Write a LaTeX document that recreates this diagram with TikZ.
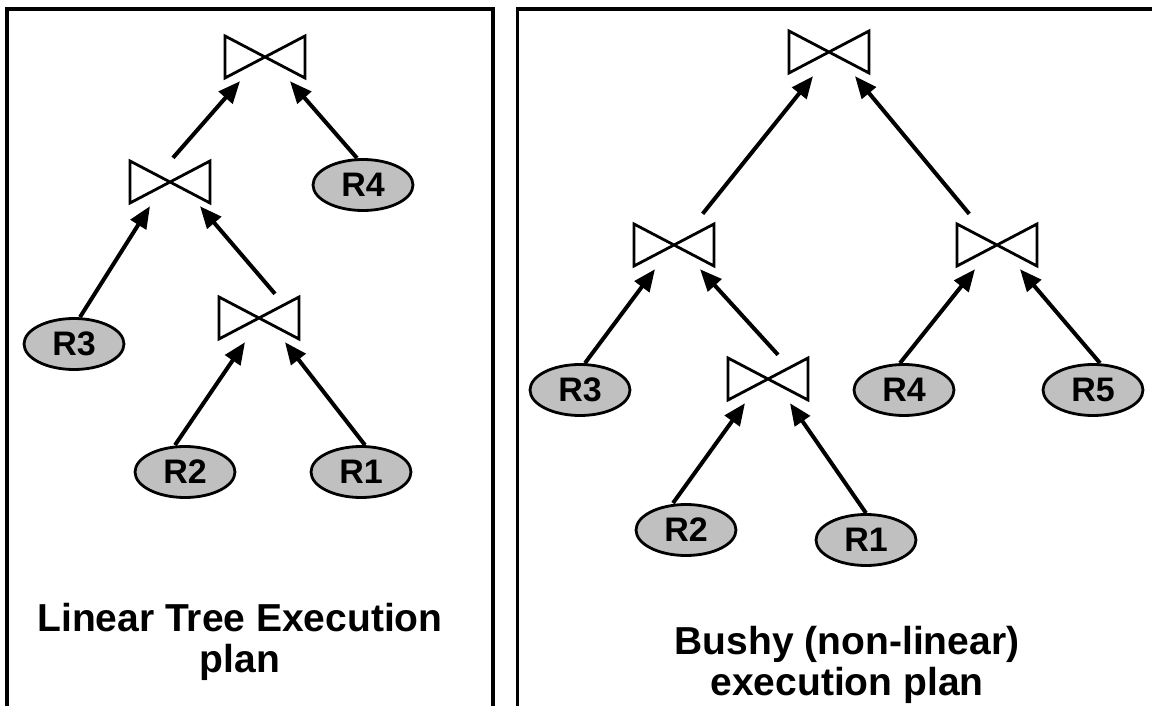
\documentclass[tikz,border=0pt]{standalone}
\usepackage{fontspec}
\setmainfont{Liberation Sans}
\usetikzlibrary{arrows.meta,shapes.geometric}
\definecolor{relgray}{RGB}{192,192,192}

\tikzset{
  rel/.style={ellipse,draw,line width=2.8pt,fill=relgray,minimum width=100pt,minimum height=51pt,inner sep=0pt,font=\fontsize{34}{34}\selectfont\bfseries},
  joinop/.style={minimum width=86pt,minimum height=48pt,inner sep=0pt,
    path picture={\draw[line width=2.8pt]
      ([shift={(3pt,-3pt)}]path picture bounding box.north west) --
      ([shift={(-3pt,3pt)}]path picture bounding box.south east) --
      ([shift={(-3pt,-3pt)}]path picture bounding box.north east) --
      ([shift={(3pt,3pt)}]path picture bounding box.south west) -- cycle;}},
  arr/.style={line width=4pt,-{Triangle[length=22pt,width=18pt]}},
  frame/.style={line width=3.5pt},
  caption/.style={align=center,anchor=base,font=\fontsize{39}{41}\selectfont\bfseries}
}

\begin{document}
\begin{tikzpicture}[x=1pt,y=-1pt]
\useasboundingbox (0,0) rectangle (1152,706);

\draw[frame] (7,730) -- (7,9) -- (493,9) -- (493,730);
\draw[frame] (517.5,730) -- (517.5,9) -- (1170,9);

% linear tree
\node[joinop] (j1) at (265,57) {};
\node[joinop] (j2) at (170,182) {};
\node[joinop] (j3) at (259,318) {};
\node[rel] (r4) at (363,185) {R4};
\node[rel] (r3) at (74,344) {R3};
\node[rel] (r2) at (185,472) {R2};
\node[rel] (r1) at (361,472) {R1};

\draw[arr] ([xshift=3pt]j2.north) -- ([xshift=-25pt]j1.south);
\draw[arr] ([xshift=-6pt]r4.north) -- ([xshift=25pt]j1.south);
\draw[arr] ([xshift=6pt]r3.north) -- ([xshift=-20pt]j2.south);
\draw[arr] ([xshift=16pt]j3.north) -- ([xshift=30pt]j2.south);
\draw[arr] ([xshift=-10pt]r2.north) -- ([xshift=-14pt]j3.south);
\draw[arr] ([xshift=4pt]r1.north) -- ([xshift=26pt]j3.south);

\node[caption] (cap1) at (240,672) {Linear Tree Execution\\plan};

% bushy tree
\node[joinop] (bj1) at (829,52) {};
\node[joinop] (bj2) at (674,245) {};
\node[joinop] (bj3) at (997,245) {};
\node[joinop] (bj4) at (768,379) {};
\node[rel] (br3) at (580,390) {R3};
\node[rel] (br4) at (904,390) {R4};
\node[rel] (br5) at (1093,390) {R5};
\node[rel] (br2) at (686,530) {R2};
\node[rel] (br1) at (866,540) {R1};

\draw[arr,shorten <=9pt] ([xshift=23pt]bj2.north) -- ([xshift=-16pt]bj1.south);
\draw[arr,shorten <=9pt] ([xshift=-22pt]bj3.north) -- ([xshift=26pt]bj1.south);
\draw[arr] ([xshift=5pt]br3.north) -- ([xshift=-19pt]bj2.south);
\draw[arr] ([xshift=10pt]bj4.north) -- ([xshift=26pt]bj2.south);
\draw[arr] ([xshift=-4pt]br4.north) -- ([xshift=-22pt]bj3.south);
\draw[arr] ([xshift=7pt]br5.north) -- ([xshift=23pt]bj3.south);
\draw[arr] ([xshift=-13pt]br2.north) -- ([xshift=-23pt]bj4.south);
\draw[arr] (br1.north) -- ([xshift=22pt]bj4.south);

\node[caption] (cap2) at (847,695) {Bushy (non-linear)\\execution plan};
\end{tikzpicture}
\end{document}
